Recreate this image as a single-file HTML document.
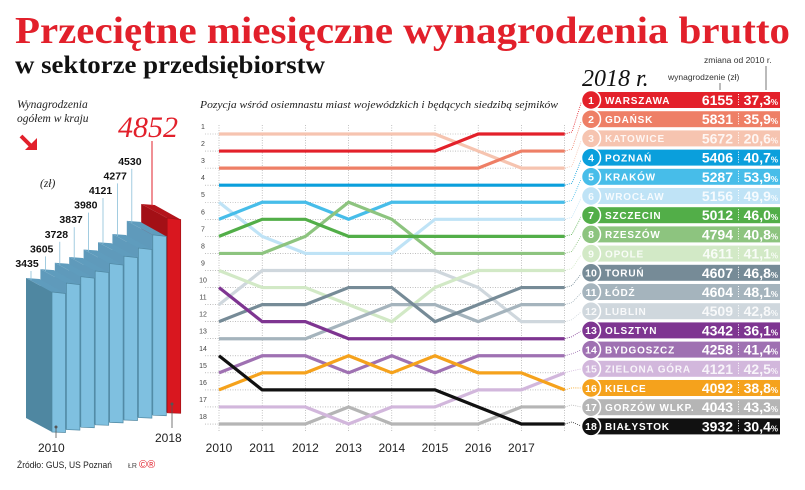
<!DOCTYPE html>
<html><head><meta charset="utf-8"><style>
html,body{margin:0;padding:0;background:#fff;}
svg{display:block;}
.serif{font-family:"Liberation Serif",serif;}
.sans{font-family:"Liberation Sans","DejaVu Sans",sans-serif;}
</style></head><body>
<svg id="root" width="805" height="490" viewBox="0 0 805 490" xmlns="http://www.w3.org/2000/svg">
<text class="serif" x="15" y="43" font-size="38" font-weight="bold" fill="#e2202b" textLength="775" lengthAdjust="spacingAndGlyphs">Przeciętne miesięczne wynagrodzenia brutto</text>
<text class="serif" x="15" y="73" font-size="25" font-weight="bold" fill="#111" textLength="310" lengthAdjust="spacingAndGlyphs">w sektorze przedsiębiorstw</text>
<text class="serif" x="17" y="108" font-size="11.5" font-style="italic" fill="#222">Wynagrodzenia</text>
<text class="serif" x="17" y="122" font-size="11.5" font-style="italic" fill="#222">ogółem w kraju</text>
<g><line x1="21" y1="136" x2="33" y2="148" stroke="#e2202b" stroke-width="4"/><polygon points="25,150 37,150 37,138" fill="#e2202b"/></g>
<text class="serif" x="40" y="187" font-size="11.5" font-style="italic" fill="#222">(zł)</text>
<g id="bars"></g>
<text class="sans" x="38" y="452" font-size="12" fill="#222">2010</text>
<text class="sans" x="155" y="442" font-size="12" fill="#222">2018</text>
<text class="sans" x="17" y="468" font-size="9.5" fill="#222" textLength="95" lengthAdjust="spacingAndGlyphs">Źródło: GUS, US Poznań</text>
<text class="sans" x="128" y="468" font-size="7" fill="#444">ŁR</text>
<text class="sans" x="139" y="468" font-size="11" fill="#e2202b">©®</text>
<text class="serif" x="200" y="108" font-size="11" font-style="italic" fill="#222" textLength="358" lengthAdjust="spacingAndGlyphs">Pozycja wśród osiemnastu miast wojewódzkich i będących siedzibą sejmików</text>
<g id="bump"></g>
<text class="serif" x="582" y="86" font-size="24" font-style="italic" fill="#111">2018 r.</text>
<text class="sans" x="668" y="80" font-size="8.5" fill="#333">wynagrodzenie (zł)</text>
<line x1="720" y1="83" x2="720" y2="90" stroke="#555" stroke-width="0.8"/>
<text class="sans" x="704" y="63" font-size="8.5" fill="#333">zmiana od 2010 r.</text>
<line x1="766" y1="66" x2="766" y2="90" stroke="#555" stroke-width="0.8"/>
<g id="table"></g>
</svg>
<script>
const NS="http://www.w3.org/2000/svg";
// ---- bar chart data ----
const barYears=[2010,2011,2012,2013,2014,2015,2016,2017,2018];
const barValues=[3435,3605,3728,3837,3980,4121,4277,4530,4852];
// ---- bump chart data ----
const years=[2010,2011,2012,2013,2014,2015,2016,2017,2018];
const cities=["Warszawa","Gdańsk","Katowice","Poznań","Kraków","Wrocław","Szczecin","Rzeszów","Opole","Toruń","Łódź","Lublin","Olsztyn","Bydgoszcz","Zielona Góra","Kielce","Gorzów Wlkp.","Białystok"];
const ranks=[
[2,2,2,2,2,2,1,1,1],
[3,3,3,3,3,3,3,2,2],
[1,1,1,1,1,1,2,3,3],
[4,4,4,4,4,4,4,4,4],
[6,5,5,6,5,5,5,5,5],
[5,7,8,8,8,6,6,6,6],
[7,6,6,7,7,7,7,7,7],
[8,8,7,5,6,8,8,8,8],
[9,10,10,11,12,10,9,9,9],
[12,11,11,10,10,12,11,10,10],
[13,13,13,12,11,11,12,11,11],
[11,9,9,9,9,9,10,12,12],
[10,12,12,13,13,13,13,13,13],
[15,14,14,15,14,15,14,14,14],
[17,17,17,18,17,17,16,16,15],
[16,15,15,14,15,14,15,15,16],
[18,18,18,17,18,18,18,17,17],
[14,16,16,16,16,16,17,18,18]];
const salaries=[6155,5831,5672,5406,5287,5156,5012,4794,4611,4607,4604,4509,4342,4258,4121,4092,4043,3932];
const changes=["37,3","35,9","20,6","40,7","53,9","49,9","46,0","40,8","41,1","46,8","48,1","42,8","36,1","41,4","42,5","38,8","43,3","30,4"];
const colors=["#e3202a","#ee7f66","#f6c4b0","#0a9fdc","#47bde9","#bfe3f6","#52ae48","#8dc47f","#d2e9c6","#768b97","#a5b4bd","#cfd7dd","#7e3591","#9f71b2","#d2b7dc","#f5a21c","#b5b5b5","#111111"];
const lightText=[false,false,true,false,false,true,false,false,true,false,false,true,false,false,true,false,false,false];

function el(tag,attrs,parent){const e=document.createElementNS(NS,tag);for(const k in attrs)e.setAttribute(k,attrs[k]);parent.appendChild(e);return e;}

// ---- bar chart ----
const bars=document.getElementById('bars');
const vy=v=>292-(v-3435)*0.0522;
const bx=i=>52+i*14.4;
const by=i=>432-i*2.4;
for(let i=barValues.length-1;i>=0;i--){
  const fx=bx(i),w=13.5,ty=vy(barValues[i]),b=by(i);
  const red=i===barValues.length-1;
  const g=el('g',{},bars);
  
  
  const sideCol=red?'#a31016':(i===0?'#4f87a1':'#5f9abb');
  el('polygon',{points:`${fx-26},${ty-14} ${fx},${ty} ${fx},${b} ${fx-26},${b-14}`,fill:sideCol},g);
  el('polygon',{points:`${fx-26},${ty-14} ${fx-26+w},${ty-13} ${fx+w},${ty+1.5} ${fx},${ty}`,fill:red?'#b3141b':'#5f9cbd'},g);
  el('polygon',{points:`${fx},${ty} ${fx+w},${ty+1.5} ${fx+w},${b+0.5} ${fx},${b}`,fill:red?'#d9171f':'#7fc0e0',stroke:red?'#a01016':'#4f87a1','stroke-width':0.7},g);
}
for(let i=0;i<barValues.length;i++){
  const fx=bx(i),ty=vy(barValues[i]);
  const red=i===barValues.length-1;
  if(red){
    el('line',{x1:152,y1:141,x2:152,y2:ty-12,stroke:'#e2202b','stroke-width':1},bars);
    const t=el('text',{x:148,y:137,'font-size':30,'font-style':'italic','text-anchor':'middle',fill:'#e2202b','class':'serif'},bars);
    t.textContent=barValues[i];
    
    
  } else {
    const lx=27+i*14.7,ly=267-i*14.6;
    el('line',{x1:fx-21,y1:ly+4,x2:fx-21,y2:ty-12,stroke:'#8bbfd8','stroke-width':0.8},bars);
    const t=el('text',{x:lx,y:ly,'font-size':10.5,'font-weight':'bold','text-anchor':'middle',fill:'#111','class':'sans'},bars);
    t.textContent=barValues[i];
    
    
  }
}
el('line',{x1:56,y1:428,x2:56,y2:438,stroke:'#555','stroke-width':0.8},bars);
el('circle',{cx:56,cy:427,r:1.5,fill:'#555'},bars);
el('line',{x1:172,y1:404,x2:172,y2:428,stroke:'#555','stroke-width':0.8},bars);
el('circle',{cx:172,cy:404,r:1.5,fill:'#555'},bars);

// ---- bump chart ----
const bump=document.getElementById('bump');
const xs=j=>219+j*43.2;
const ry=r=>134+(r-1)*17.06;
for(let r=1;r<=18;r++){
  el('line',{x1:205,y1:ry(r),x2:566,y2:ry(r),stroke:'#999','stroke-width':0.6,'stroke-dasharray':'1,1.5'},bump);
  const t=el('text',{x:203,y:ry(r)-5,'font-size':7,'text-anchor':'middle',fill:'#444','class':'sans'},bump);
  t.textContent=r;
  
  
}
for(let j=0;j<years.length;j++){
  el('line',{x1:xs(j),y1:125,x2:xs(j),y2:432,stroke:'#999','stroke-width':0.6,'stroke-dasharray':'1,1.5'},bump);
  if(j<years.length-1){
    const t=el('text',{x:xs(j),y:452,'font-size':12,'text-anchor':'middle',fill:'#222','class':'sans'},bump);
    t.textContent=years[j];
    
    
  }
}
const rowY=i=>100+i*19.2;
const order=[11,8,16,14,2,5,10,9,1,13,15,12,4,7,6,3,17,0];
for(const c of order){
  const pts=ranks[c].map((r,j)=>xs(j)+','+ry(r)).join(' ');
  const p=el('polyline',{points:pts,fill:'none',stroke:colors[c],'stroke-width':3.2,'stroke-linejoin':'miter'},bump);
  
  
  const last=ranks[c][ranks[c].length-1];
  el('polyline',{points:`${xs(8)},${ry(last)} ${572},${ry(last)-2} ${582},${rowY(last-1)}`,fill:'none',stroke:colors[c]==='#111111'?'#333':colors[c],'stroke-width':0.8,'stroke-dasharray':'1,1.2'},bump);
}

// ---- table ----
const tbl=document.getElementById('table');
for(let i=0;i<cities.length;i++){
  const y=rowY(i),col=colors[i],tc=lightText[i]?'rgba(255,255,255,0.85)':'#fff';
  const g=el('g',{},tbl);
  
  
  el('rect',{x:596,y:y-8,width:184,height:16,fill:col},g);
  el('circle',{cx:591,cy:y,r:9.5,fill:col,stroke:'#fff','stroke-width':1.5},g);
  const n=el('text',{x:591,y:y+3.8,'font-size':10.5,'font-weight':'bold','text-anchor':'middle',fill:tc,'class':'sans'},g);n.textContent=i+1;
  const nm=el('text',{x:605,y:y+3.8,'font-size':10,'font-weight':'bold','letter-spacing':'0.8',fill:tc,'class':'sans'},g);
  nm.textContent=cities[i].toUpperCase();
  
  
  const v=el('text',{x:733,y:y+5,'font-size':14,'font-weight':'bold','text-anchor':'end',fill:tc,'class':'sans'},g);
  v.textContent=salaries[i];
  
  
  el('line',{x1:738.5,y1:y-6,x2:738.5,y2:y+6,stroke:'#fff','stroke-width':1,'stroke-dasharray':'1,1.5'},g);
  const pc=el('text',{x:778,y:y+5,'text-anchor':'end',fill:tc,'class':'sans','font-weight':'bold'},g);
  
  
  const a=el('tspan',{'font-size':14},pc);a.textContent=changes[i];
  const b=el('tspan',{'font-size':8},pc);b.textContent='%';
}
</script>
</body></html>
